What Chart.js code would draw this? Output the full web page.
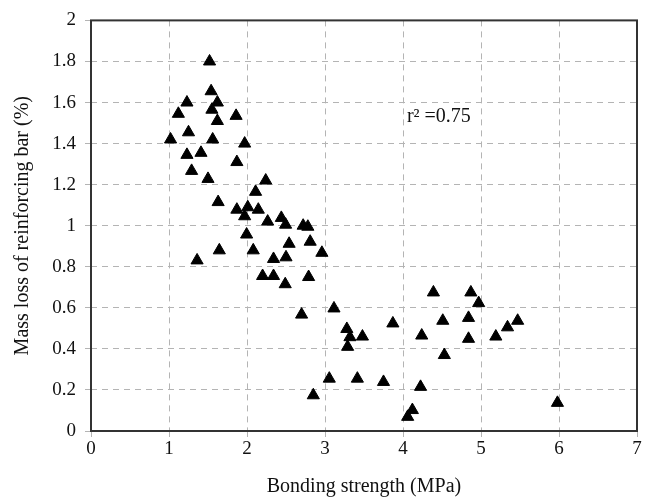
<!DOCTYPE html>
<html>
<head>
<meta charset="utf-8">
<script src="https://cdn.jsdelivr.net/npm/chart.js@4.4.1/dist/chart.umd.min.js"></script>
<style>
  html, body { margin: 0; padding: 0; background: #fff; }
  #wrap { width: 653px; height: 497px; position: relative; }
</style>
</head>
<body>
<div id="wrap"><canvas id="scatterChart"></canvas></div>
<script>
// bonding strength (MPa) vs mass loss (%)
const bondStrength = [
    1.52, 1.54, 1.23, 1.62, 1.55, 1.12, 1.86, 1.62, 1.25, 1.02,
    1.56, 1.97, 1.23, 1.41, 1.87, 1.29, 1.50, 2.24, 2.11, 1.63,
    1.87, 2.01, 2.145, 1.97, 2.265, 2.44, 2.495, 2.72, 2.78, 1.995,
    2.54, 2.81, 1.645, 2.08, 2.96, 1.36, 2.34, 2.50, 2.20, 2.34,
    2.79, 2.49, 2.70, 3.115, 3.87, 4.51, 3.28, 3.32, 3.48, 3.29,
    4.24, 4.53, 3.055, 3.415, 3.75, 4.225, 2.85, 4.12, 4.06, 4.39,
    4.87, 4.97, 4.84, 5.47, 5.34, 4.84, 5.19, 5.98
];
const massLoss = [
    1.80, 1.655, 1.60, 1.60, 1.565, 1.545, 1.535, 1.51, 1.455, 1.42,
    1.42, 1.40, 1.345, 1.355, 1.31, 1.267, 1.228, 1.22, 1.165, 1.115,
    1.078, 1.09, 1.078, 1.046, 1.02, 1.038, 1.005, 1.0, 0.995, 0.957,
    0.912, 0.922, 0.88, 0.88, 0.868, 0.831, 0.838, 0.846, 0.755, 0.755,
    0.75, 0.715, 0.567, 0.597, 0.524, 0.537, 0.497, 0.457, 0.46, 0.41,
    0.465, 0.37, 0.255, 0.255, 0.239, 0.215, 0.174, 0.102, 0.069, 0.675,
    0.675, 0.623, 0.551, 0.537, 0.505, 0.449, 0.46, 0.137
];
const xTicks = [0, 1, 2, 3, 4, 5, 6, 7];
const yTicks = [0, 0.2, 0.4, 0.6, 0.8, 1, 1.2, 1.4, 1.6, 1.8, 2];
const rSquared = 'r\u00B2 =0.75';

const serif = "'Liberation Serif', 'Times New Roman', serif";
const gridColor = '#b4b4b4';

const points = bondStrength.map((x, i) => ({ x: x, y: massLoss[i] }));

// solid frame around the plot + r² note
const framePlugin = {
    id: 'frame',
    afterDatasetsDraw(chart) {
        const { ctx, chartArea: a, scales } = chart;
        ctx.save();
        ctx.strokeStyle = '#333';
        ctx.lineWidth = 2;
        ctx.setLineDash([]);
        ctx.strokeRect(a.left, a.top, a.right - a.left, a.bottom - a.top);
        ctx.fillStyle = '#111';
        ctx.font = "20px " + serif;
        ctx.textBaseline = 'middle';
        ctx.fillText(rSquared, scales.x.getPixelForValue(4.05), scales.y.getPixelForValue(1.53));
        ctx.restore();
    }
};

new Chart(document.getElementById('scatterChart'), {
    type: 'scatter',
    data: {
        datasets: [{
            data: points,
            pointStyle: 'triangle',
            pointRadius: 7,
            pointHoverRadius: 7,
            backgroundColor: '#000',
            borderColor: '#000',
            borderWidth: 1
        }]
    },
    options: {
        responsive: true,
        maintainAspectRatio: false,
        animation: false,
        layout: { padding: { top: 18, right: 16, left: 0, bottom: 0 } },
        plugins: { legend: { display: false }, tooltip: { enabled: false } },
        scales: {
            x: {
                type: 'linear',
                min: 0, max: 7,
                afterBuildTicks: (s) => { s.ticks = xTicks.map(v => ({ value: v })); },
                afterFit: (s) => { s.height = 66; },
                grid: { color: gridColor, lineWidth: 1, tickLength: 6, tickColor: gridColor, tickBorderDash: [] },
                border: { display: false, dash: [6, 5] },
                ticks: { color: '#111', font: { family: serif, size: 19 }, padding: 1, maxRotation: 0, callback: (v) => String(v) },
                title: { display: true, text: 'Bonding strength (MPa)', color: '#111', font: { family: serif, size: 20 }, padding: { top: 0, bottom: -2 } }
            },
            y: {
                type: 'linear',
                min: 0, max: 2,
                afterBuildTicks: (s) => { s.ticks = yTicks.map(v => ({ value: v })); },
                afterFit: (s) => { s.width = 91; },
                grid: { color: gridColor, lineWidth: 1, tickLength: 6, tickColor: gridColor, tickBorderDash: [] },
                border: { display: false, dash: [6, 5] },
                ticks: { color: '#111', font: { family: serif, size: 19 }, padding: 9, callback: (v) => String(v) },
                title: { display: true, text: 'Mass loss of reinforcing bar (%)', color: '#111', font: { family: serif, size: 20 }, padding: { top: 11, bottom: 0 } }
            }
        }
    },
    plugins: [framePlugin]
});
</script>
</body>
</html>
